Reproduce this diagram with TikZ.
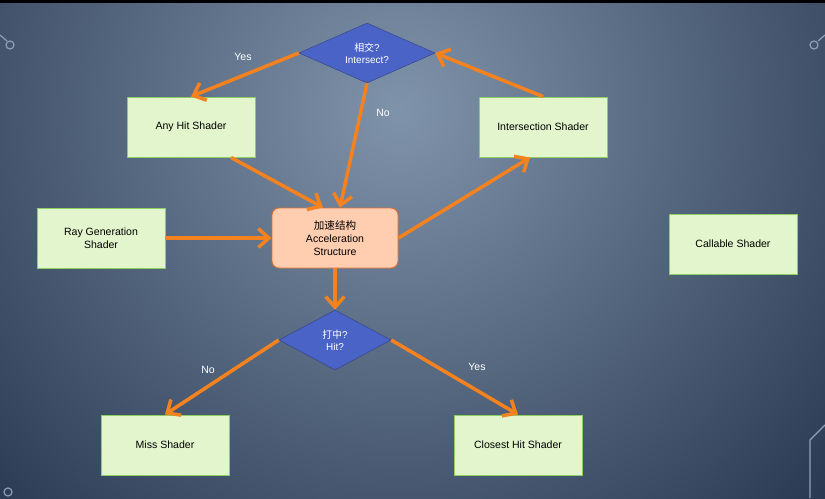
\documentclass[tikz,border=0pt]{standalone}
\usepackage{fontspec}
\setmainfont{Liberation Sans}
\newfontfamily\cjk{Noto Sans CJK SC}
\usetikzlibrary{shapes.geometric,arrows.meta}
\definecolor{arr}{HTML}{F5821F}
\definecolor{gfill}{HTML}{E2F5CC}
\definecolor{gline}{HTML}{8CCF5E}
\definecolor{dfill}{HTML}{4A63C6}
\definecolor{bgin}{HTML}{7F93AA}
\definecolor{bgout}{HTML}{22324A}
\definecolor{deco}{HTML}{8FA3B8}
\definecolor{accline}{HTML}{E0702E}
\definecolor{accfill}{HTML}{FFCDB0}
\tikzset{
 box/.style={draw=gline,line width=0.8pt,fill=gfill,minimum width=128*0.03cm,minimum height=60*0.03cm,font=\fontsize{9}{11}\selectfont,align=center,text=black},
 dia/.style={diamond,draw=dfill!70!black,fill=dfill,aspect=2.2,inner sep=0pt,text=white,font=\fontsize{8.5}{10}\selectfont,align=center},
 ar/.style={draw=arr,line width=3pt,-{Straight Barb[length=9pt,width=16pt,line width=3pt]}},
 lab/.style={text=white,font=\fontsize{9}{11}\selectfont},
 deco/.style={draw=deco,line width=1pt}
}
\begin{document}
\begin{tikzpicture}[x=0.03cm,y=-0.03cm]
\useasboundingbox (0,0) rectangle (825,498);
\begin{scope}
\clip (0,0) rectangle (825,498);
\shade[inner color=bgin,outer color=bgout] (400,110) circle (620);
\fill[black] (0,0) rectangle (825,3);
\draw[deco] (0,35) -- (7,41);
\draw[deco] (10,45) circle (4);
\draw[deco] (825,35) -- (818,41);
\draw[deco] (814,45) circle (4);
\draw[deco] (810,498) -- (810,440) -- (825,425);
\draw[deco] (8,492) circle (4);
\end{scope}
\node[dia,minimum width=136*0.03cm,minimum height=60*0.03cm] (d1) at (367,53) {{\cjk 相交}?\\Intersect?};
\node[box] (any) at (191,127) {Any Hit Shader};
\node[box] (isec) at (543,127) {Intersection Shader};
\node[box] (ray) at (101,238) {Ray Generation\\Shader};
\node[box,rounded corners=6pt,draw=accline,fill=accfill,minimum width=126*0.03cm] (acc) at (335,238) {{\cjk 加速结构}\\Acceleration\\Structure};
\node[box] (call) at (733,244) {Callable Shader};
\node[dia,minimum width=112*0.03cm,minimum height=60*0.03cm] (d2) at (335,340) {{\cjk 打中}?\\Hit?};
\node[box] (miss) at (165,445) {Miss Shader};
\node[box] (close) at (518,445) {Closest Hit Shader};
\draw[ar] (d1.west) -- (any.north);
\draw[ar] (d1.south) -- ([xshift=5*0.03cm]acc.north);
\draw[ar] (isec.north) -- (d1.east);
\draw[ar] ([xshift=40*0.03cm]any.south) -- ([xshift=-12*0.03cm]acc.north);
\draw[ar] (ray.east) -- (acc.west);
\draw[ar] (acc.east) -- ([xshift=-13*0.03cm]isec.south);
\draw[ar] (acc.south) -- (d2.north);
\draw[ar] (d2.west) -- (miss.north);
\draw[ar] (d2.east) -- (close.north);
\node[lab] (l1) at (243,57) {Yes};
\node[lab] (l2) at (383,113) {No};
\node[lab] (l3) at (208,370) {No};
\node[lab] (l4) at (477,367) {Yes};
\end{tikzpicture}
\end{document}
